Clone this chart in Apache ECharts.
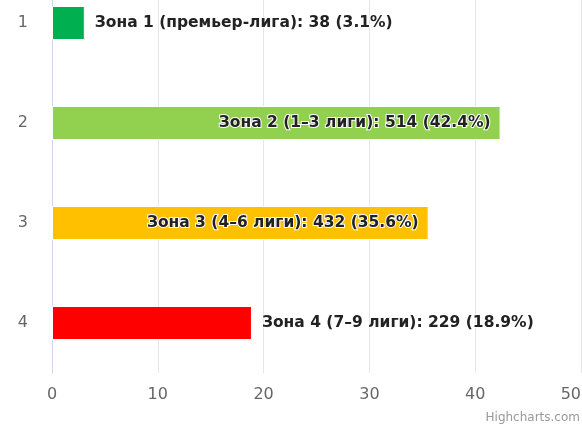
<!DOCTYPE html>
<html>
<head>
<meta charset="utf-8">
<script src="https://cdn.jsdelivr.net/npm/echarts@6/dist/echarts.min.js"></script>
<style>
  html, body { margin: 0; padding: 0; background: #fff; }
  #chart { width: 582px; height: 426px; }
</style>
</head>
<body>
<div id="chart"></div>
<script>
// Football zones: share of teams per zone
const categories = ['1', '2', '3', '4'];
const zoneNames = ['Зона 1 (премьер-лига)', 'Зона 2 (1–3 лиги)', 'Зона 3 (4–6 лиги)', 'Зона 4 (7–9 лиги)'];
const counts = [38, 514, 432, 229];
const percents = [3.1, 42.4, 35.6, 18.9];
const barColors = ['#00b050', '#92d050', '#ffc000', '#ff0000'];
const axisTicks = [0, 10, 20, 30, 40, 50];

const FONT = '"DejaVu Sans", Verdana, sans-serif';

const seriesData = percents.map((v, i) => ({
  value: v,
  name: zoneNames[i],
  itemStyle: { color: barColors[i] },
  label: { position: v > 30 ? 'insideRight' : 'right' }
}));

const chart = echarts.init(document.getElementById('chart'), null, { renderer: 'canvas' });
chart.setOption({
  animation: false,
  grid: { left: 52, right: 1, top: -27, height: 400, outerBoundsMode: 'none', containLabel: false },
  xAxis: {
    type: 'value',
    min: axisTicks[0],
    max: axisTicks[axisTicks.length - 1],
    interval: 10,
    axisLine: { show: false },
    axisTick: { show: false },
    splitLine: { lineStyle: { color: '#e6e6e6', width: 1 } },
    axisLabel: {
      color: '#666', fontFamily: FONT, fontSize: 16, margin: 14,
      alignMaxLabel: 'right'
    }
  },
  yAxis: {
    type: 'category',
    inverse: true,
    data: categories,
    axisLine: { show: true, lineStyle: { color: '#ccd6eb', width: 1 } },
    axisTick: { show: false },
    axisLabel: { color: '#666', fontFamily: FONT, fontSize: 16, margin: 24 }
  },
  series: [{
    type: 'bar',
    data: seriesData,
    barWidth: 34,
    itemStyle: { borderColor: '#fff', borderWidth: 1 },
    label: {
      show: true,
      distance: 10,
      fontFamily: FONT,
      fontSize: 15.5,
      fontWeight: 'bold',
      color: '#222',
      textBorderColor: '#fff',
      textBorderWidth: 2,
      formatter: p => `${zoneNames[p.dataIndex]}: ${counts[p.dataIndex]} (${percents[p.dataIndex]}%)`
    }
  }],
  graphic: [{
    type: 'text',
    right: 2,
    bottom: 2,
    style: { text: 'Highcharts.com', fill: '#999', font: `12px ${FONT}` }
  }]
});
</script>
</body>
</html>
